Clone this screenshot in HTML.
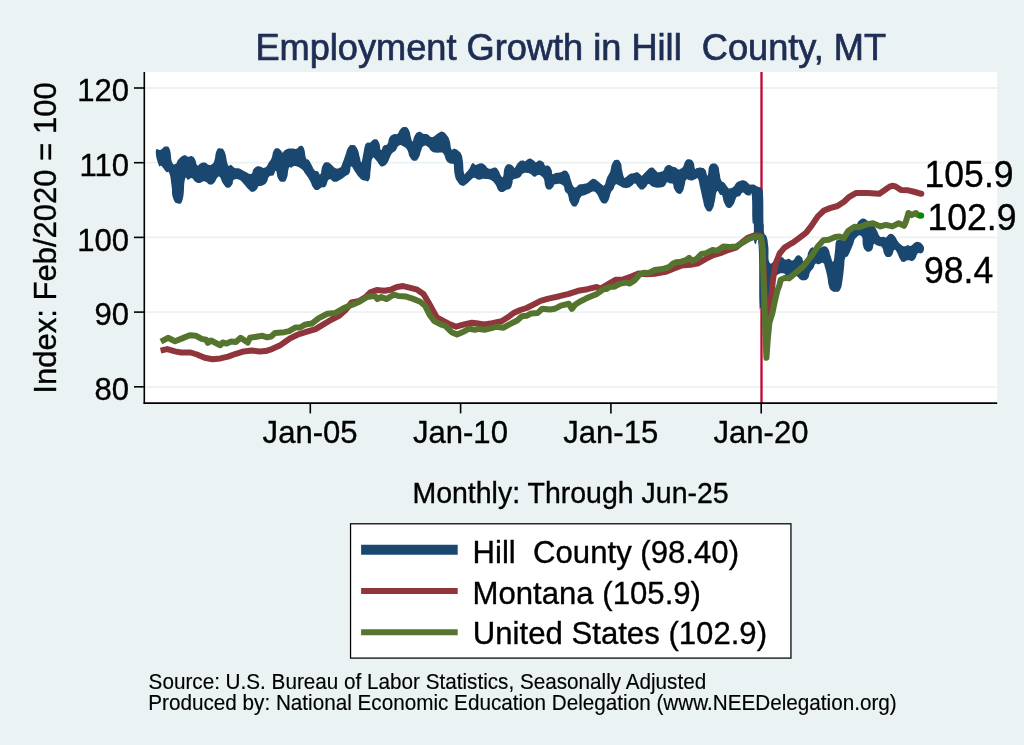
<!DOCTYPE html>
<html><head><meta charset="utf-8"><title>Employment Growth in Hill County, MT</title>
<style>
html,body{margin:0;padding:0;background:#eaf2f3;}
body{width:1024px;height:745px;overflow:hidden;font-family:"Liberation Sans",sans-serif;}
svg{display:block;will-change:transform;}
text{font-family:"Liberation Sans",sans-serif;}
</style></head><body>
<svg width="1024" height="745" viewBox="0 0 1024 745">
<rect x="0" y="0" width="1024" height="745" fill="#eaf2f3"/>
<!-- plot region -->
<rect x="144.5" y="72" width="852.7" height="331" fill="#ffffff"/>
<!-- gridlines -->
<g stroke="#eaf2f3" stroke-width="1.8">
<line x1="145" x2="997.2" y1="88" y2="88"/>
<line x1="145" x2="997.2" y1="162.7" y2="162.7"/>
<line x1="145" x2="997.2" y1="237.4" y2="237.4"/>
<line x1="145" x2="997.2" y1="312.1" y2="312.1"/>
<line x1="145" x2="997.2" y1="386.8" y2="386.8"/>
</g>
<!-- xline -->
<line x1="761.5" x2="761.5" y1="72" y2="403" stroke="#c10534" stroke-width="2.3"/>
<!-- series -->
<g fill="none" stroke-linejoin="round" stroke-linecap="butt">
<path d="M155.9,150.8 C156.5,146.8 158.2,150.8 160.7,149.7 C163.3,148.6 163.1,146.5 165.6,146.5 C168.0,146.5 168.2,145.5 169.9,149.7 C171.6,153.9 170.4,158.3 172.0,162.1 C173.6,165.8 174.1,164.4 175.8,163.7 C177.5,163.0 176.2,161.6 178.5,159.4 C180.8,157.1 181.8,156.0 184.4,155.3 C186.9,154.6 186.1,156.5 188.1,156.7 C190.1,156.9 190.0,155.4 191.9,156.2 C193.8,156.9 193.7,156.9 195.1,159.4 C196.5,161.8 195.8,164.2 197.3,165.3 C198.7,166.4 198.5,164.2 200.5,163.4 C202.5,162.7 202.6,162.2 204.8,162.6 C206.9,162.9 206.7,164.3 208.5,164.7 C210.4,165.2 210.2,165.4 211.8,164.2 C213.3,163.1 213.2,164.0 214.4,160.4 C215.7,156.9 215.0,154.0 216.6,150.8 C218.2,147.6 218.2,148.1 220.3,148.4 C222.5,148.7 222.6,147.5 224.7,151.8 C226.7,156.2 226.2,161.2 227.9,164.7 C229.6,168.2 229.2,164.1 231.1,165.0 C233.0,165.8 232.7,167.0 234.8,168.0 C237.0,168.9 236.6,167.6 239.2,168.5 C241.7,169.4 241.4,169.8 244.5,171.2 C247.7,172.6 248.5,174.4 251.0,173.9 C253.4,173.3 251.9,171.0 253.7,169.0 C255.4,167.0 255.8,167.0 257.4,166.3 C259.1,165.7 257.8,166.2 259.8,166.6 C261.9,166.9 262.8,168.8 265.2,167.6 C267.6,166.5 267.2,164.8 269.0,162.3 C270.7,159.7 270.4,161.1 271.6,158.0 C272.9,154.8 272.2,153.0 273.8,150.4 C275.4,147.9 275.6,148.2 277.6,148.3 C279.6,148.4 280.0,149.8 281.3,151.0 C282.6,152.1 281.1,153.0 282.4,152.6 C283.7,152.2 283.4,150.5 286.1,149.4 C288.9,148.3 289.9,148.7 292.6,148.5 C295.3,148.4 294.3,149.5 296.4,148.8 C298.4,148.1 298.1,146.1 300.1,145.9 C302.1,145.8 302.3,145.1 303.9,148.3 C305.4,151.5 304.7,154.8 306.0,158.0 C307.3,161.1 307.1,158.1 308.7,160.1 C310.3,162.1 310.4,162.8 311.9,165.5 C313.5,168.2 313.0,168.7 314.6,170.3 C316.2,171.9 316.3,170.4 317.8,171.4 C319.4,172.4 319.2,175.7 320.5,174.1 C321.8,172.5 320.9,168.6 322.7,165.5 C324.4,162.3 324.7,162.5 327.0,162.3 C329.3,162.0 329.0,162.8 331.3,164.4 C333.6,166.0 333.3,167.3 335.6,168.2 C337.9,169.0 338.1,168.6 339.9,167.6 C341.6,166.6 340.6,167.6 342.0,164.4 C343.4,161.3 343.5,160.4 345.2,155.8 C346.9,151.2 346.4,150.1 348.4,147.2 C350.5,144.4 350.4,144.8 352.7,145.1 C355.0,145.4 355.2,145.2 357.0,148.3 C358.9,151.4 358.6,153.2 359.7,156.9 C360.9,160.6 360.5,162.5 361.3,162.3 C362.2,162.0 362.0,160.1 362.9,155.8 C363.9,151.5 363.8,149.6 364.8,146.2 C365.9,142.8 365.5,144.0 367.0,143.0 C368.4,142.0 368.2,143.4 370.2,142.4 C372.2,141.4 372.2,139.4 374.5,139.2 C376.8,139.1 377.1,139.0 378.8,141.9 C380.5,144.8 379.7,148.9 380.9,149.9 C382.2,151.0 381.9,147.2 383.6,145.7 C385.3,144.1 385.8,146.2 387.4,144.0 C389.0,141.9 388.0,140.2 389.5,137.6 C391.1,135.0 391.2,135.4 393.3,134.4 C395.4,133.4 395.7,135.1 397.6,133.8 C399.5,132.5 398.4,131.3 400.3,129.5 C402.1,127.7 402.3,126.9 404.6,127.1 C406.9,127.2 407.2,127.3 408.9,130.1 C410.6,132.9 410.0,134.6 411.0,137.6 C412.0,140.6 411.6,141.9 412.6,141.3 C413.6,140.8 413.1,138.0 414.8,135.4 C416.5,132.9 416.8,132.1 419.1,131.7 C421.4,131.3 421.1,133.1 423.4,133.8 C425.7,134.5 425.5,133.5 427.7,134.4 C429.8,135.2 429.4,136.8 431.4,137.1 C433.4,137.3 433.2,136.6 435.2,135.4 C437.2,134.3 436.9,133.8 438.9,132.8 C441.0,131.8 440.6,131.0 442.7,131.7 C444.9,132.4 445.1,133.0 447.0,135.4 C448.9,137.9 448.5,137.2 449.7,140.8 C450.8,144.4 450.3,146.7 451.3,148.9 C452.3,151.0 452.5,148.9 453.4,148.9 C454.4,148.9 453.5,148.2 454.8,148.8 C456.2,149.4 456.9,149.5 458.6,150.9 C460.3,152.4 460.1,151.4 461.3,154.2 C462.4,156.9 462.2,156.1 462.9,161.2 C463.6,166.2 463.1,170.0 464.0,173.0 C464.8,176.0 464.7,173.6 466.1,172.4 C467.5,171.3 467.6,171.1 469.3,168.7 C471.0,166.2 470.8,164.3 472.6,163.3 C474.3,162.3 473.5,164.9 475.8,164.9 C478.1,164.9 478.6,163.2 481.1,163.3 C483.7,163.4 483.7,164.2 485.4,165.4 C487.2,166.7 486.2,167.3 487.6,168.1 C489.0,169.0 488.8,168.8 490.8,168.7 C492.8,168.5 493.1,167.2 495.1,167.6 C497.1,168.0 496.8,168.1 498.3,170.3 C499.9,172.4 499.7,174.1 501.0,175.7 C502.3,177.2 502.2,178.3 503.2,176.2 C504.2,174.0 503.2,170.8 504.8,167.6 C506.4,164.4 506.8,164.4 509.1,164.2 C511.4,163.9 511.9,165.5 513.4,166.5 C514.8,167.6 513.0,169.3 514.5,168.1 C515.9,167.0 516.4,164.2 518.7,162.2 C521.0,160.2 521.3,160.9 523.0,160.6 C524.8,160.3 523.5,161.7 525.2,161.2 C526.9,160.6 527.2,158.6 529.5,158.5 C531.8,158.3 532.1,159.6 533.8,160.6 C535.5,161.6 534.5,162.3 535.9,162.2 C537.4,162.2 537.1,160.4 539.1,160.4 C541.2,160.4 541.9,160.9 543.5,162.2 C545.0,163.6 543.6,164.4 545.1,165.4 C546.5,166.5 547.1,164.8 548.8,166.0 C550.5,167.1 550.5,167.6 551.5,169.7 C552.5,171.9 551.4,173.2 552.6,174.0 C553.7,174.9 553.6,173.4 555.8,173.0 C558.0,172.5 558.5,172.8 560.9,172.2 C563.3,171.6 562.7,170.3 564.7,170.6 C566.7,170.9 566.7,170.6 568.4,173.3 C570.1,176.0 569.8,177.4 571.1,180.8 C572.4,184.3 572.0,184.5 573.3,186.2 C574.6,187.9 574.4,187.7 576.0,187.3 C577.5,186.8 577.3,185.4 579.2,184.6 C581.0,183.7 580.8,184.5 582.9,184.0 C585.1,183.6 585.2,184.0 587.2,183.0 C589.2,182.0 588.6,181.4 590.5,180.3 C592.3,179.2 592.2,178.6 594.2,178.9 C596.2,179.2 596.1,180.0 598.0,181.3 C599.8,182.7 599.5,183.0 601.2,184.0 C602.9,185.0 603.0,186.5 604.4,185.1 C605.8,183.7 605.4,181.5 606.6,178.7 C607.7,175.8 607.7,176.4 608.7,174.4 C609.7,172.4 609.3,174.2 610.3,171.2 C611.3,168.1 610.9,166.1 612.5,163.1 C614.0,160.1 614.1,160.0 616.2,159.9 C618.4,159.7 618.9,159.8 620.5,162.6 C622.1,165.3 621.3,166.4 622.1,170.1 C623.0,173.8 622.9,174.5 623.7,176.5 C624.6,178.5 623.9,178.2 625.4,177.6 C626.8,177.0 627.0,175.5 629.1,174.4 C631.3,173.2 631.3,173.9 633.4,173.3 C635.6,172.7 635.3,171.9 637.2,172.2 C639.0,172.5 639.1,173.5 640.4,174.4 C641.7,175.2 640.4,176.3 642.0,175.4 C643.6,174.6 643.7,173.3 646.3,171.2 C648.9,169.0 649.1,167.5 651.7,167.4 C654.2,167.2 654.4,169.3 656.0,170.6 C657.5,171.9 656.3,171.9 657.6,172.2 C658.9,172.5 659.2,172.1 660.8,171.7 C662.4,171.3 662.3,171.9 663.5,170.6 C664.7,169.3 663.9,168.4 665.4,166.8 C666.9,165.3 667.1,164.9 669.1,164.9 C671.1,164.9 671.2,166.2 672.9,166.8 C674.6,167.5 674.0,166.7 675.6,167.4 C677.1,168.1 677.5,169.2 678.8,169.5 C680.1,169.9 679.3,169.5 680.4,168.8 C681.6,168.1 681.8,168.8 683.1,166.8 C684.4,164.9 683.7,163.5 685.2,161.5 C686.8,159.5 686.9,159.2 689.0,159.3 C691.1,159.5 691.7,159.6 693.3,162.0 C694.9,164.5 693.9,166.8 694.9,168.5 C695.9,170.1 695.3,168.3 697.1,168.1 C698.8,167.9 699.2,167.3 701.4,167.7 C703.5,168.1 703.5,167.5 705.1,169.5 C706.7,171.6 706.4,174.7 707.3,175.4 C708.1,176.2 707.8,174.7 708.3,172.2 C708.9,169.8 708.0,168.6 709.4,166.3 C710.8,164.0 711.4,163.6 713.7,163.6 C716.0,163.6 716.4,163.7 718.0,166.3 C719.6,168.9 718.8,169.6 719.6,173.3 C720.5,177.0 719.9,177.7 721.2,180.3 C722.5,182.9 722.7,181.1 724.5,183.0 C726.2,184.8 726.2,185.8 727.7,187.3 C729.1,188.7 728.1,188.6 729.8,188.3 C731.5,188.1 732.4,187.6 734.1,186.2 C735.8,184.8 734.5,184.4 736.3,183.0 C738.0,181.5 738.3,181.4 740.6,180.8 C742.9,180.2 742.8,180.2 744.9,180.8 C746.9,181.4 746.8,182.0 748.1,183.0 C749.4,184.0 748.3,184.1 749.7,184.6 C751.1,185.0 751.6,184.2 753.5,184.6 C755.3,185.0 755.1,185.5 756.7,186.2 C758.2,186.9 758.0,186.6 759.4,187.3 C760.7,187.9 760.8,186.3 761.8,188.6 C762.8,190.8 762.7,187.5 763.1,195.8 C763.5,204.2 763.3,212.2 763.4,220.0 C763.6,227.8 763.5,221.4 763.8,225.0 C764.0,228.6 763.5,230.4 764.3,233.6 C765.1,236.7 765.6,233.4 766.6,236.8 C767.7,240.3 767.5,239.7 768.3,246.5 C769.0,253.2 767.6,258.2 769.3,262.1 C771.0,265.9 771.5,262.3 774.7,261.0 C777.9,259.7 778.3,257.6 781.1,257.2 C784.0,256.8 783.4,259.2 785.5,259.6 C787.5,260.0 786.7,258.7 788.7,258.8 C790.7,259.0 790.7,261.1 793.0,260.2 C795.3,259.4 795.0,256.4 797.3,255.6 C799.6,254.8 799.8,255.8 801.6,257.2 C803.3,258.7 802.3,261.0 803.7,261.0 C805.1,261.0 805.6,259.7 806.9,257.2 C808.2,254.8 807.3,254.4 808.5,251.8 C809.8,249.3 810.2,248.6 811.8,247.6 C813.3,246.6 812.3,247.9 814.5,248.1 C816.6,248.2 817.2,248.6 819.8,248.1 C822.4,247.6 821.8,246.0 824.1,246.3 C826.4,246.6 826.7,246.5 828.4,249.2 C830.1,251.8 829.3,252.9 830.6,256.1 C831.8,259.4 832.1,262.7 833.2,261.5 C834.4,260.4 834.1,257.0 834.9,251.8 C835.6,246.7 835.1,245.3 835.9,242.2 C836.8,239.0 836.1,240.9 838.1,240.0 C840.1,239.2 840.9,241.1 843.5,239.0 C846.0,236.8 844.7,234.9 847.5,231.8 C850.3,228.8 851.4,229.7 853.9,227.6 C856.5,225.4 855.9,225.5 857.1,223.8 C858.4,222.1 857.2,222.5 858.8,221.1 C860.3,219.7 860.8,218.6 863.1,218.4 C865.4,218.3 865.8,219.4 867.4,220.6 C868.9,221.7 867.4,221.4 869.0,222.7 C870.5,224.0 871.3,223.5 873.3,225.4 C875.3,227.3 874.8,226.8 876.5,229.7 C878.2,232.6 877.8,234.3 879.7,236.2 C881.6,238.0 881.8,236.4 883.5,236.7 C885.2,237.0 884.7,237.8 886.1,237.2 C887.6,236.6 887.4,235.4 888.8,234.5 C890.3,233.7 889.9,233.6 891.5,234.0 C893.1,234.4 893.0,234.1 894.7,236.2 C896.5,238.2 896.2,239.2 898.0,241.5 C899.7,243.8 899.5,243.5 901.2,244.7 C902.9,246.0 902.7,246.2 904.4,246.3 C906.1,246.5 905.9,245.4 907.6,245.3 C909.3,245.1 908.8,246.5 910.9,245.8 C912.9,245.1 913.1,243.6 915.1,242.6 C917.2,241.6 916.6,241.8 918.4,242.1 C920.1,242.3 920.2,242.5 921.6,243.7 C923.0,244.8 922.9,245.1 923.5,246.3 C924.2,247.6 924.0,247.1 924.0,248.5 C923.9,249.9 924.0,250.4 923.2,251.7 C922.4,253.0 922.1,252.9 921.1,253.3 C920.1,253.8 920.5,253.2 919.5,253.3 C918.4,253.5 918.4,252.4 917.3,253.9 C916.2,255.3 916.6,256.8 915.1,258.7 C913.7,260.6 913.9,260.4 911.9,260.9 C909.9,261.3 909.9,260.0 907.6,260.3 C905.3,260.6 905.3,262.2 903.3,261.9 C901.3,261.6 901.8,261.8 900.1,259.2 C898.4,256.7 898.5,254.7 896.9,252.3 C895.3,249.8 895.5,249.4 894.2,250.1 C892.9,250.8 893.6,253.1 892.1,254.9 C890.5,256.8 890.3,257.2 888.3,257.1 C886.3,256.9 886.1,256.8 884.5,254.4 C883.0,252.0 883.7,250.1 882.4,248.0 C881.1,245.8 881.3,247.1 879.7,246.3 C878.1,245.6 878.1,245.9 876.5,245.3 C874.9,244.7 874.9,243.1 873.8,244.2 C872.7,245.4 873.6,247.6 872.2,249.6 C870.8,251.6 870.3,251.6 868.4,251.7 C866.6,251.9 866.6,251.7 865.2,250.1 C863.8,248.5 864.1,249.5 863.1,245.8 C862.1,242.1 863.4,238.3 861.5,236.2 C859.5,234.0 858.0,235.7 855.8,237.9 C853.6,240.1 854.5,240.9 853.1,244.3 C851.7,247.8 851.9,247.6 850.4,250.8 C849.0,253.9 849.2,254.1 847.7,256.1 C846.3,258.2 846.1,255.2 845.1,258.3 C844.1,261.4 844.7,261.9 844.0,268.0 C843.3,274.0 843.4,275.1 842.4,280.9 C841.4,286.6 841.9,286.5 840.2,289.4 C838.5,292.4 838.2,291.5 835.9,291.8 C833.6,292.1 833.5,292.0 831.6,290.5 C829.8,289.0 830.1,289.9 829.0,286.2 C827.8,282.5 828.3,281.4 827.3,276.6 C826.3,271.7 826.3,271.5 825.2,268.0 C824.0,264.4 824.8,264.1 823.0,263.1 C821.3,262.1 820.7,264.1 818.7,264.2 C816.7,264.4 817.0,262.7 815.5,263.7 C814.1,264.7 814.8,265.7 813.4,268.0 C811.9,270.3 811.6,269.5 810.1,272.3 C808.7,275.0 809.7,276.0 808.0,278.2 C806.3,280.3 805.9,280.0 803.7,280.3 C801.6,280.6 801.7,280.2 800.0,279.2 C798.2,278.2 799.1,277.6 797.3,276.6 C795.4,275.6 795.7,275.7 793.0,275.5 C790.2,275.3 789.6,276.3 787.1,275.7 C784.5,275.1 785.7,273.7 783.3,273.3 C780.9,273.0 780.1,273.0 777.9,274.4 C775.8,275.8 776.2,274.7 775.2,278.7 C774.2,282.7 774.7,283.7 774.2,289.4 C773.6,295.2 773.8,296.0 773.1,300.2 C772.4,304.3 773.3,302.7 771.5,305.0 C769.6,307.3 769.0,308.1 766.1,308.8 C763.2,309.5 762.5,308.7 760.7,307.7 C759.0,306.7 760.0,321.5 759.5,305.0 C758.9,288.6 759.7,262.2 758.6,245.9 C757.5,229.7 756.6,246.3 755.4,244.1 C754.1,242.0 754.3,243.0 753.9,237.9 C753.4,232.8 754.2,229.8 753.8,225.0 C753.4,220.2 752.9,227.8 752.4,220.0 C751.9,212.2 752.6,202.4 751.8,195.8 C751.1,189.3 751.3,195.9 749.7,195.6 C748.1,195.4 747.8,195.6 745.9,194.8 C744.1,194.0 744.3,192.3 742.7,192.6 C741.1,192.9 741.6,194.7 740.0,195.8 C738.4,197.0 738.1,195.8 736.8,196.9 C735.5,198.1 736.2,198.0 735.2,200.2 C734.2,202.3 734.8,202.9 733.0,205.0 C731.3,207.0 731.0,208.3 728.7,207.9 C726.4,207.5 726.2,206.6 724.5,203.4 C722.7,200.2 723.4,198.1 722.3,195.8 C721.2,193.6 721.6,195.9 720.1,194.8 C718.7,193.6 718.4,189.8 716.9,191.6 C715.5,193.3 715.9,196.6 714.8,201.2 C713.6,205.8 714.2,206.0 712.6,208.7 C711.1,211.5 710.9,211.7 708.9,211.4 C706.9,211.1 706.7,210.7 705.1,207.7 C703.5,204.7 704.2,205.3 703.0,200.2 C701.7,195.0 701.6,193.9 700.3,188.3 C699.0,182.8 699.4,181.6 698.1,179.2 C696.8,176.8 697.3,178.8 695.5,179.2 C693.6,179.6 693.6,180.5 691.1,180.6 C688.7,180.7 688.0,178.5 686.3,179.7 C684.6,180.9 685.7,182.0 684.7,185.1 C683.7,188.3 684.1,189.3 682.6,191.6 C681.0,193.9 680.9,194.3 678.8,193.7 C676.7,193.1 676.1,192.0 674.5,189.4 C672.9,186.8 674.0,185.6 672.9,184.0 C671.7,182.5 671.8,183.9 670.2,183.5 C668.6,183.1 668.4,181.9 667.0,182.4 C665.5,183.0 666.3,184.4 664.8,185.7 C663.3,186.9 663.7,186.8 661.3,187.3 C659.0,187.7 658.5,187.8 656.0,187.5 C653.4,187.2 653.7,187.1 651.7,186.2 C649.7,185.3 650.2,183.6 648.5,184.0 C646.7,184.5 647.1,186.3 645.2,187.8 C643.4,189.3 643.3,189.8 641.5,189.6 C639.6,189.5 640.0,188.9 638.2,187.3 C636.5,185.6 636.7,183.9 635.0,183.5 C633.3,183.1 633.7,184.5 631.8,185.7 C629.9,186.8 630.2,187.2 628.0,187.8 C625.9,188.4 626.0,188.4 623.7,187.8 C621.4,187.2 621.6,186.5 619.5,185.7 C617.3,184.8 617.3,183.7 615.7,184.6 C614.1,185.4 614.8,186.7 613.5,188.9 C612.2,191.0 612.3,189.5 610.9,192.6 C609.4,195.8 610.0,197.8 608.2,200.7 C606.3,203.6 606.0,203.7 603.9,203.6 C601.7,203.4 601.8,202.5 600.1,200.2 C598.4,197.8 599.1,197.1 597.4,194.8 C595.7,192.5 595.8,192.0 593.7,191.6 C591.5,191.1 591.8,192.2 589.4,193.2 C586.9,194.2 586.8,194.3 584.5,195.3 C582.2,196.3 582.5,194.8 580.8,196.9 C579.1,199.1 579.8,200.8 578.1,203.4 C576.4,205.9 576.5,206.9 574.3,206.6 C572.2,206.3 571.8,205.5 570.0,202.3 C568.3,199.1 569.2,197.6 567.9,194.8 C566.6,191.9 566.6,194.1 565.2,191.6 C563.8,189.0 565.2,187.1 562.5,185.1 C559.9,183.2 557.8,183.8 555.3,184.2 C552.8,184.7 554.7,185.5 553.1,186.9 C551.5,188.4 551.4,189.6 549.4,189.6 C547.4,189.6 547.0,189.7 545.6,186.9 C544.2,184.2 545.1,182.3 544.0,179.4 C542.8,176.5 542.9,177.3 541.3,176.2 C539.7,175.0 539.9,175.0 538.1,175.1 C536.2,175.3 536.3,177.0 534.3,176.7 C532.3,176.4 532.4,175.0 530.6,174.0 C528.7,173.0 529.3,173.1 527.3,173.0 C525.3,172.8 524.8,172.6 523.0,173.5 C521.3,174.4 522.3,174.9 520.9,176.2 C519.5,177.5 519.7,177.5 517.7,178.3 C515.7,179.2 514.8,178.0 513.4,179.4 C511.9,180.8 513.2,181.3 512.3,183.7 C511.4,186.1 511.9,186.8 510.1,188.5 C508.4,190.3 508.0,189.2 505.9,190.2 C503.7,191.1 504.1,192.1 502.1,192.1 C500.1,192.1 499.9,191.8 498.3,190.2 C496.8,188.5 497.6,188.1 496.2,185.8 C494.8,183.6 494.7,183.3 493.0,181.6 C491.2,179.8 491.7,180.1 489.7,179.4 C487.7,178.7 487.5,179.0 485.4,178.9 C483.4,178.7 484.2,178.7 482.2,178.9 C480.2,179.1 480.1,179.9 477.9,179.6 C475.8,179.3 476.2,177.6 474.2,177.8 C472.2,178.0 472.6,178.8 470.4,180.5 C468.3,182.2 468.4,182.9 466.1,184.2 C463.8,185.6 464.1,186.4 461.8,185.6 C459.5,184.9 459.4,184.4 457.5,181.6 C455.7,178.8 455.8,179.7 454.8,175.1 C453.8,170.5 454.1,167.4 453.8,164.4 C453.4,161.4 454.4,164.2 453.4,163.9 C452.5,163.6 452.1,164.2 450.2,163.4 C448.4,162.5 448.2,163.1 446.5,160.7 C444.8,158.3 445.4,156.4 443.8,154.2 C442.2,152.1 442.9,153.1 440.6,152.6 C438.3,152.2 437.6,153.1 435.2,152.6 C432.8,152.2 433.4,152.6 431.4,151.0 C429.4,149.4 429.8,148.0 427.7,146.7 C425.5,145.4 425.1,145.2 423.4,146.2 C421.7,147.2 422.5,147.3 421.2,150.5 C419.9,153.6 420.4,155.3 418.5,158.0 C416.7,160.7 416.5,161.0 414.2,160.7 C411.9,160.4 411.8,159.8 409.9,156.9 C408.1,154.1 409.1,152.8 407.3,149.9 C405.4,147.1 405.3,147.3 403.0,146.2 C400.7,145.0 400.5,144.6 398.7,145.7 C396.8,146.7 397.7,147.9 396.0,149.9 C394.3,152.0 393.8,151.3 392.2,153.2 C390.6,155.0 391.5,154.2 390.1,156.9 C388.6,159.7 389.0,160.8 386.9,163.4 C384.7,165.9 384.2,166.2 382.0,166.4 C379.9,166.5 380.4,165.6 378.8,163.9 C377.2,162.2 377.8,161.6 376.1,160.2 C374.4,158.7 373.8,156.0 372.4,158.5 C370.9,161.1 371.6,164.1 370.7,169.8 C369.9,175.5 370.7,177.2 369.1,180.0 C367.6,182.9 366.8,180.5 365.0,180.5 C363.2,180.5 364.0,180.8 362.4,180.0 C360.9,179.1 361.2,179.6 359.2,177.3 C357.2,175.0 357.0,174.3 354.9,171.4 C352.7,168.5 352.6,166.1 351.1,166.6 C349.7,167.0 351.1,170.4 349.5,173.0 C347.9,175.6 347.8,174.4 345.2,176.2 C342.7,178.1 342.7,178.5 339.9,180.0 C337.0,181.5 337.3,182.0 334.5,181.8 C331.6,181.7 331.5,178.2 329.1,179.4 C326.7,180.7 327.4,184.3 325.4,186.4 C323.3,188.6 323.7,186.6 321.6,187.5 C319.5,188.4 319.4,189.8 317.3,190.0 C315.2,190.1 315.5,190.6 313.5,188.0 C311.5,185.5 311.9,184.2 309.8,180.5 C307.6,176.8 307.8,177.2 305.5,174.1 C303.2,170.9 304.1,170.9 301.2,168.7 C298.3,166.6 297.3,166.3 294.7,166.0 C292.2,165.7 293.1,167.1 291.5,167.6 C289.9,168.2 290.1,165.3 288.8,168.2 C287.5,171.0 288.4,174.7 286.7,178.4 C285.0,182.0 284.7,181.8 282.4,181.8 C280.1,181.8 279.8,181.3 278.1,178.4 C276.4,175.4 277.2,171.7 275.9,170.8 C274.7,170.0 275.1,173.6 273.3,175.2 C271.4,176.7 270.7,174.9 269.0,176.8 C267.2,178.6 268.4,179.8 266.8,182.1 C265.2,184.4 265.4,184.2 263.1,185.3 C260.8,186.5 259.7,185.6 258.2,186.4 C256.7,187.2 258.8,186.9 257.4,188.4 C256.0,189.8 255.4,191.5 253.1,191.8 C250.8,192.1 251.4,191.7 248.8,189.4 C246.2,187.2 246.0,186.1 243.4,183.5 C240.9,181.0 241.7,180.8 239.2,179.8 C236.6,178.8 235.6,178.5 233.8,179.8 C231.9,181.1 233.7,182.5 232.2,184.6 C230.6,186.8 230.3,188.1 227.9,187.8 C225.4,187.6 225.2,186.4 223.0,183.5 C220.9,180.7 221.5,178.4 219.8,177.1 C218.1,175.8 218.0,177.3 216.6,178.7 C215.2,180.1 216.2,180.9 214.4,182.5 C212.7,184.0 212.7,184.9 210.2,184.6 C207.6,184.3 207.6,181.8 204.8,181.4 C201.9,181.0 202.0,183.0 199.4,183.0 C196.8,183.0 197.1,182.7 195.1,181.4 C193.1,180.1 193.8,178.6 191.9,178.2 C190.0,177.7 190.0,179.4 188.1,179.8 C186.3,180.2 186.3,174.6 184.9,179.8 C183.5,184.9 184.6,192.8 182.8,199.1 C180.9,205.4 180.5,203.7 177.9,203.4 C175.4,203.1 174.8,202.9 173.1,198.0 C171.4,193.2 172.5,191.7 171.5,185.2 C170.5,178.6 170.8,176.9 169.3,173.3 C167.9,169.8 168.1,173.6 166.1,171.7 C164.1,169.9 163.8,168.2 161.8,166.3 C159.8,164.5 160.2,168.9 158.6,164.7 C157.0,160.6 155.3,154.8 155.9,150.8Z" fill="#1a476f" stroke="none"/>
<path d="M160.6,350.6 L167.2,349.1 L175.0,351.4 L181.2,352.5 L190.6,352.5 L196.9,354.5 L204.7,357.7 L212.5,359.2 L220.3,358.4 L228.1,356.6 L235.9,353.8 L243.8,351.4 L251.6,350.6 L259.4,351.4 L265.6,351.1 L271.9,349.1 L279.7,345.6 L285.9,341.2 L290.6,338.1 L296.9,335.0 L300.0,333.8 L307.8,331.4 L315.6,329.1 L323.4,324.4 L331.2,319.7 L339.1,315.8 L345.3,310.3 L351.6,302.5 L359.4,300.9 L365.6,297.0 L370.3,292.3 L376.6,290.0 L384.4,290.8 L390.6,289.7 L396.9,286.9 L403.1,286.1 L409.4,287.7 L417.2,289.7 L423.4,293.9 L428.1,301.7 L432.8,310.3 L436.7,317.3 L443.8,321.2 L450.0,324.4 L456.2,326.7 L464.1,324.4 L471.9,322.8 L478.1,323.6 L484.4,324.4 L492.2,323.1 L501.6,321.2 L507.8,317.3 L514.1,312.7 L520.3,310.0 L526.6,308.0 L532.8,304.8 L540.6,300.9 L548.4,298.6 L559.4,296.2 L568.8,293.9 L578.1,290.8 L587.5,289.2 L596.9,286.9 L600.0,289.1 L607.8,284.4 L615.6,279.7 L623.4,279.4 L631.2,276.6 L639.1,273.4 L646.9,274.2 L654.7,273.8 L665.6,271.9 L673.4,268.8 L681.2,265.6 L690.6,264.8 L698.4,263.3 L706.2,258.6 L712.5,255.5 L720.3,253.1 L728.1,250.0 L735.9,247.7 L742.2,242.2 L748.4,237.5 L754.7,235.2 L760.0,235.6 L762.5,245.0 L765.8,316.0 L768.2,316.0 L770.9,300.0 L772.8,281.4 L774.3,271.0 L776.0,262.6 L779.8,253.2 L784.5,247.6 L790.0,244.2 L793.3,242.4 L799.7,237.6 L806.2,232.7 L811.6,225.7 L818.0,216.1 L824.0,210.5 L830.0,208.1 L837.5,206.0 L844.0,201.7 L849.3,196.8 L855.8,193.1 L867.6,193.1 L879.4,193.8 L885.9,189.3 L889.3,186.9 L892.3,185.7 L894.8,186.1 L897.1,187.5 L900.9,189.9 L907.3,190.2 L914.9,192.0 L921.3,193.8" stroke="#90353b" stroke-width="6"/>
<circle cx="921.3" cy="193.85" r="3" fill="#90353b" stroke="none"/>
<path d="M160.9,341.6 L168.0,337.8 L175.0,341.2 L182.8,338.1 L189.8,335.3 L196.1,335.8 L201.6,338.9 L206.2,339.7 L207.8,342.8 L210.9,340.5 L220.3,345.2 L222.7,342.5 L226.6,343.6 L231.2,341.6 L235.9,342.0 L240.6,337.8 L247.7,342.5 L250.0,337.8 L259.4,336.2 L262.5,335.8 L267.2,337.3 L271.1,336.6 L275.0,333.1 L284.4,332.2 L289.1,331.1 L295.3,327.5 L300.0,327.5 L304.7,324.8 L305.5,324.4 L311.7,323.6 L318.8,318.1 L327.3,313.8 L335.2,313.1 L343.8,308.0 L353.1,304.4 L359.4,301.7 L367.2,297.0 L375.0,295.9 L377.3,299.1 L381.2,297.0 L386.7,299.1 L389.8,297.0 L393.8,294.7 L398.4,295.9 L406.2,296.6 L412.5,298.6 L420.3,301.7 L425.0,305.6 L429.7,315.0 L434.4,321.2 L440.6,324.4 L445.3,325.9 L451.6,332.2 L457.0,334.5 L464.1,331.4 L468.8,328.8 L475.0,329.8 L478.1,328.8 L484.4,329.8 L490.6,328.3 L496.9,326.7 L503.1,327.8 L509.4,324.4 L517.2,320.5 L521.9,316.2 L526.6,315.8 L531.2,313.4 L537.5,313.1 L542.2,308.8 L550.0,309.5 L554.7,308.8 L560.9,305.6 L568.8,303.8 L571.9,308.8 L575.0,304.8 L579.7,301.7 L585.9,298.6 L590.6,296.6 L596.9,293.9 L602.3,290.0 L606.2,288.4 L606.2,289.1 L610.2,286.7 L614.1,286.7 L620.3,283.6 L626.6,282.5 L629.7,283.6 L634.4,280.5 L639.1,275.0 L643.8,272.7 L648.4,273.1 L654.7,270.0 L662.5,269.1 L668.8,267.2 L673.4,263.3 L676.6,262.2 L681.2,261.7 L685.9,260.2 L689.1,257.8 L692.2,260.9 L696.9,258.6 L701.6,253.9 L706.2,253.1 L712.5,250.0 L717.2,250.8 L723.4,246.6 L729.7,246.9 L735.9,246.6 L742.2,243.0 L748.4,239.1 L754.7,236.7 L761.1,237.1 L762.6,250.0 L764.2,300.0 L766.4,357.8 L767.9,337.8 L769.4,322.7 L772.3,313.3 L775.1,300.2 L777.3,290.8 L779.4,285.2 L780.7,279.8 L785.4,277.8 L789.0,278.4 L795.5,273.0 L803.0,266.6 L811.6,255.8 L818.0,246.2 L823.4,240.2 L828.7,239.7 L835.2,237.0 L839.5,236.5 L843.8,238.1 L848.1,231.1 L854.5,226.8 L858.8,227.3 L867.4,224.1 L873.0,223.2 L880.5,226.4 L885.9,224.8 L892.3,226.4 L898.7,223.2 L904.1,225.8 L906.3,220.5 L908.4,213.0 L911.6,215.1 L915.9,213.0 L918.1,215.1 L920.8,215.7" stroke="#55752f" stroke-width="6"/>
</g>
<circle cx="921" cy="215.6" r="3.2" fill="#008a00"/>
<!-- axes -->
<g stroke="#000" stroke-width="1.6">
<line x1="144.3" x2="144.3" y1="72" y2="403.8"/>
<line x1="143.5" x2="997.2" y1="403.2" y2="403.2" stroke-width="1.7"/>
<line x1="134" x2="144.3" y1="88" y2="88"/>
<line x1="134" x2="144.3" y1="162.7" y2="162.7"/>
<line x1="134" x2="144.3" y1="237.4" y2="237.4"/>
<line x1="134" x2="144.3" y1="312.1" y2="312.1"/>
<line x1="134" x2="144.3" y1="386.8" y2="386.8"/>
<line x1="310.3" x2="310.3" y1="403" y2="413.4"/>
<line x1="460.6" x2="460.6" y1="403" y2="413.4"/>
<line x1="610.9" x2="610.9" y1="403" y2="413.4"/>
<line x1="761.2" x2="761.2" y1="403" y2="413.4"/>
</g>
<text transform="translate(255.4,60) scale(1,1.02)" font-size="36.2" fill="#1e2d53" stroke="#1e2d53" stroke-width="0.7" xml:space="preserve">Employment Growth in Hill  County, MT</text>
<text transform="translate(129.0,101.1) scale(1,1.035)" font-size="31.1" fill="#000" stroke="#000" stroke-width="0.35" text-anchor="end" xml:space="preserve">120</text>
<text transform="translate(129.0,175.8) scale(1,1.035)" font-size="31.1" fill="#000" stroke="#000" stroke-width="0.35" text-anchor="end" xml:space="preserve">110</text>
<text transform="translate(129.0,250.5) scale(1,1.035)" font-size="31.1" fill="#000" stroke="#000" stroke-width="0.35" text-anchor="end" xml:space="preserve">100</text>
<text transform="translate(129.0,325.2) scale(1,1.035)" font-size="31.1" fill="#000" stroke="#000" stroke-width="0.35" text-anchor="end" xml:space="preserve">90</text>
<text transform="translate(129.0,399.9) scale(1,1.035)" font-size="31.1" fill="#000" stroke="#000" stroke-width="0.35" text-anchor="end" xml:space="preserve">80</text>
<text transform="translate(55.9,393.7) rotate(-90) scale(1,1.035)" font-size="31.05" fill="#000" stroke="#000" stroke-width="0.35" xml:space="preserve">Index: Feb/2020 = 100</text>
<text transform="translate(310.1,442.8) scale(1,1.035)" font-size="31.1" fill="#000" stroke="#000" stroke-width="0.35" text-anchor="middle" xml:space="preserve">Jan-05</text>
<text transform="translate(460.4,442.8) scale(1,1.035)" font-size="31.1" fill="#000" stroke="#000" stroke-width="0.35" text-anchor="middle" xml:space="preserve">Jan-10</text>
<text transform="translate(610.7,442.8) scale(1,1.035)" font-size="31.1" fill="#000" stroke="#000" stroke-width="0.35" text-anchor="middle" xml:space="preserve">Jan-15</text>
<text transform="translate(761.0,442.8) scale(1,1.035)" font-size="31.1" fill="#000" stroke="#000" stroke-width="0.35" text-anchor="middle" xml:space="preserve">Jan-20</text>
<text transform="translate(412.4,502.8) scale(1,1.035)" font-size="28.5" fill="#000" stroke="#000" stroke-width="0.35" xml:space="preserve">Monthly: Through Jun-25</text>
<text transform="translate(924.5,187.4) scale(1,1.035)" font-size="35.6" fill="#000" stroke="#000" stroke-width="0.35" xml:space="preserve">105.9</text>
<text transform="translate(927.4,229.8) scale(1,1.035)" font-size="35.6" fill="#000" stroke="#000" stroke-width="0.35" xml:space="preserve">102.9</text>
<text transform="translate(924.0,282.9) scale(1,1.035)" font-size="35.6" fill="#000" stroke="#000" stroke-width="0.35" xml:space="preserve">98.4</text>
<!-- legend -->
<rect x="350.55" y="523.8" width="440.4" height="134.3" fill="#fff" stroke="#000" stroke-width="1.25"/>
<line x1="361.1" x2="457.7" y1="549.75" y2="549.75" stroke="#1a476f" stroke-width="10.2"/>
<line x1="361.1" x2="457.7" y1="591" y2="591" stroke="#90353b" stroke-width="5.9"/>
<line x1="361.1" x2="457.7" y1="632.3" y2="632.3" stroke="#55752f" stroke-width="5.9"/>
<text transform="translate(472.5,563.0) scale(1,1.035)" font-size="31.15" fill="#000" stroke="#000" stroke-width="0.35" xml:space="preserve">Hill  County (98.40)</text>
<text transform="translate(472.5,604.0) scale(1,1.035)" font-size="31.15" fill="#000" stroke="#000" stroke-width="0.35" xml:space="preserve">Montana (105.9)</text>
<text transform="translate(472.8,644.0) scale(1,1.035)" font-size="31.15" fill="#000" stroke="#000" stroke-width="0.35" xml:space="preserve">United States (102.9)</text>
<text transform="translate(148.6,688.8) scale(1,1.035)" font-size="20.7" fill="#000" stroke="#000" stroke-width="0.15" xml:space="preserve">Source: U.S. Bureau of Labor Statistics, Seasonally Adjusted</text>
<text transform="translate(148.3,709.7) scale(1,1.035)" font-size="20.7" fill="#000" stroke="#000" stroke-width="0.15" xml:space="preserve">Produced by: National Economic Education Delegation (www.NEEDelegation.org)</text>
</svg>
</body></html>
